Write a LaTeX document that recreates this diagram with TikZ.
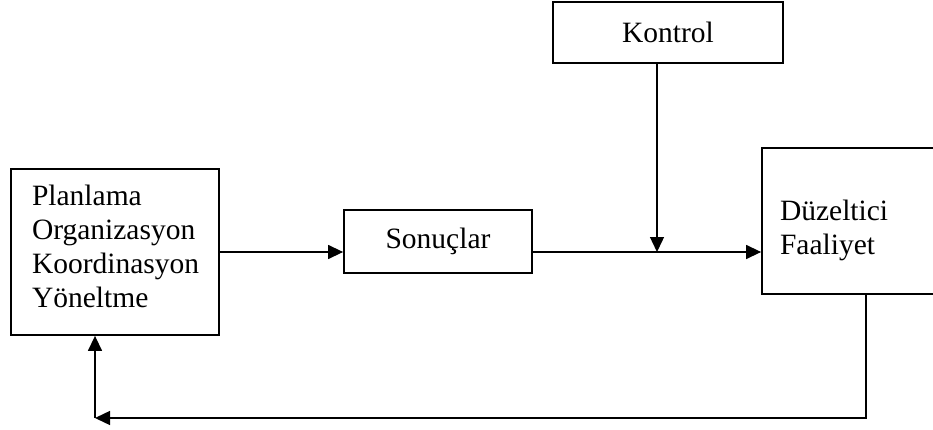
\documentclass[tikz,border=0pt]{standalone}
\usepackage{fontspec}
\setmainfont{Liberation Serif}
\usetikzlibrary{arrows.meta}
% text block whose last baseline sits #1 below the node centre
\newcommand{\droptext}[3]{\raisebox{-#1}[0pt][0pt]{\parbox[b]{#2}{#3}}}
\begin{document}
\begin{tikzpicture}[x=1pt,y=-1pt,
  blockbox/.style={draw,line width=1.8pt,inner sep=0pt,align=left,
    font=\fontsize{29.5}{34}\selectfont},
  link/.style={line width=1.4pt},
  flow/.style={link,-{Triangle[length=15pt,width=14pt]}}]
  \useasboundingbox (0,0) rectangle (933,430);
  \begin{scope}
    \clip (0,0) rectangle (933,430);
    % boxes
    \node[blockbox,minimum width=208pt,minimum height=166pt,text width=166pt,inner xsep=21pt]
      (plan) at (115,252) {\droptext{55pt}{166pt}{Planlama\\Organizasyon\\Koordinasyon\\Yöneltme}};
    \node[blockbox,minimum width=188pt,minimum height=63pt,align=center]
      (sonuc) at (438,241.5) {Sonuçlar};
    \node[blockbox,minimum width=230pt,minimum height=61pt,align=center]
      (kontrol) at (668,32.5) {Kontrol};
    \node[blockbox,minimum width=208pt,minimum height=146pt,text width=172pt,inner xsep=18pt]
      (duz) at (866,221) {\droptext{34pt}{172pt}{Düzeltici\\Faaliyet}};
    % junction points
    \coordinate (join) at (657,252);
    \coordinate (low) at (866,418);
    \coordinate (corner) at (95,418);
    % connectors
    \draw[flow] (plan.east) -- (plan.east -| sonuc.west);
    \draw[flow] (sonuc.east |- plan.east) -- (duz.west |- plan.east);
    \draw[flow] (kontrol.south -| join) -- (join);
    \draw[flow] (duz.south) -- (low) -- (corner);
    \draw[flow] (corner) -- (plan.south -| corner);
  \end{scope}
\end{tikzpicture}
\end{document}
